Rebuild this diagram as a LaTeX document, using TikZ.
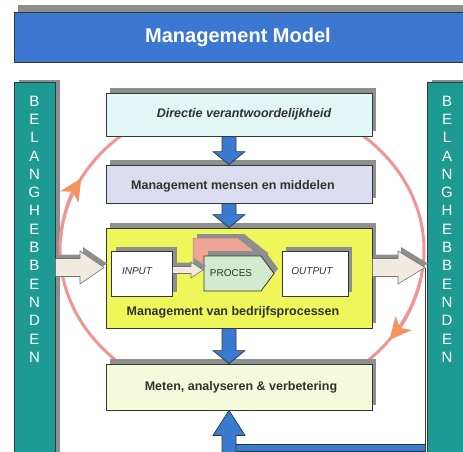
\documentclass[tikz,border=0pt]{standalone}
\usepackage{fontspec}
\setmainfont{Liberation Sans}
\usetikzlibrary{calc,arrows.meta,shadows}
\definecolor{titleblue}{HTML}{3C78D2}
\definecolor{tealbar}{HTML}{1E9A94}
\definecolor{sgray}{HTML}{8E8E8E}
\definecolor{boxcyan}{HTML}{E2F7F5}
\definecolor{boxlav}{HTML}{DCDCF0}
\definecolor{boxyel}{HTML}{EEF65A}
\definecolor{boxlyel}{HTML}{F5FADC}
\definecolor{procgreen}{HTML}{D2EBCF}
\definecolor{procpink}{HTML}{EEA595}
\definecolor{beige}{HTML}{F2E9DF}
\definecolor{arrblue}{HTML}{3A7AD0}
\definecolor{edgec}{HTML}{2E3A36}
\definecolor{ringpink}{HTML}{F39494}
\definecolor{tiporange}{HTML}{F5935E}
\definecolor{txt}{HTML}{2E332E}
\tikzset{
  shd/.style={drop shadow={shadow xshift=4pt,shadow yshift=5pt,fill=sgray,opacity=1}},
  boxstyle/.style={draw=edgec, line width=0.8pt, minimum width=266pt, inner sep=0pt,
    font=\fontsize{12.5}{14}\selectfont\bfseries, text=txt, shd},
  smallbox/.style={draw=edgec, line width=0.8pt, fill=white, inner sep=0pt, minimum height=45pt,
    font=\fontsize{10}{12}\selectfont, text=txt, shd},
  barstyle/.style={draw=edgec, line width=0.8pt, fill=tealbar, inner sep=0pt, anchor=north west,
    drop shadow={shadow xshift=5pt,shadow yshift=2pt,fill=sgray,opacity=1}},
  letter/.style={text=white, font=\fontsize{15}{15}\selectfont, inner sep=0pt},
  barrow/.style={draw=edgec, line width=0.7pt, fill=arrblue},
  bgarrow/.style={draw=edgec!70, line width=0.6pt, fill=beige},
  ring/.style={draw=ringpink, line width=3pt},
  ringtip/.style={draw=ringpink, line width=3pt, -{Stealth[length=22pt,width=21pt,inset=6pt,color=tiporange]}},
}
\newcommand\bdown[2]{%
  \draw[barrow] ($(#1)+(-7,0)$) -- ($(#2)+(-7,-13)$) -- ($(#2)+(-16,-13)$) -- (#2)
    -- ($(#2)+(16,-13)$) -- ($(#2)+(7,-13)$) -- ($(#1)+(7,0)$) -- cycle;}
\newcommand\bupar[2]{%
  \draw[barrow] ($(#1)+(-7,0)$) -- ($(#2)+(-7,25)$) -- ($(#2)+(-16,25)$) -- (#2)
    -- ($(#2)+(16,25)$) -- ($(#2)+(7,25)$) -- ($(#1)+(7,0)$) -- cycle;}
% #1 start, #2 tip, #3 shaft half, #4 head half, #5 head length
\newcommand\beigearrow[5]{%
  \fill[sgray] ($(#1)+(3,-#3-4)$) -- ($(#2)+(-#5+3,-#3-4)$) -- ($(#2)+(-#5+3,-#4-4)$) -- ($(#2)+(3,-4)$)
    -- ($(#2)+(-#5+3,#4-4)$) -- ($(#2)+(-#5+3,#3-4)$) -- ($(#1)+(3,#3-4)$) -- cycle;
  \draw[bgarrow] ($(#1)+(0,-#3)$) -- ($(#2)+(-#5,-#3)$) -- ($(#2)+(-#5,-#4)$) -- (#2)
    -- ($(#2)+(-#5,#4)$) -- ($(#2)+(-#5,#3)$) -- ($(#1)+(0,#3)$);}
\begin{document}
\begin{tikzpicture}[x=1pt,y=-1pt]
\useasboundingbox (0,0) rectangle (463,452);
\clip (0,0) rectangle (463,452);
\fill[white] (0,0) rectangle (463,452);

% title
\node[draw=edgec, line width=0.8pt, fill=titleblue, anchor=north west, minimum width=460pt,
  minimum height=50pt, inner sep=0pt,
  drop shadow={shadow xshift=4pt,shadow yshift=7pt,fill=sgray,opacity=1}] (title) at (14,12) {};
\node[text=white, font=\fontsize{20}{22}\selectfont\bfseries] (tt) at (238,37) {Management Model};

% side bars
\node[barstyle, minimum width=41pt, minimum height=390pt] (lb) at (14,82) {};
\node[barstyle, minimum width=45pt, minimum height=390pt] (rb) at (427,82) {};
\foreach \l [count=\i from 0] in {B,E,L,A,N,G,H,E,B,B,E,N,D,E,N} {
  \node[letter] (lbl\i) at (34.5,{101+18.3*\i}) {\l};
  \node[letter] (rbl\i) at (447,{101+18.3*\i}) {\l};
}

% ring
\draw[ring] (242,250) ellipse [x radius=182, y radius=153];

% feedback line
\coordinate (fbtop) at (425,268);
\coordinate (fbcorner) at (425,448);
\draw[edgec, line width=1pt] (fbtop) -- (fbcorner);
\draw[barrow] (229,444.5) rectangle (425.5,451.5);

% boxes
\node[boxstyle, fill=boxcyan, minimum height=43pt] (d1) at (239,114.5) {};
\node[font=\fontsize{12.5}{14}\selectfont\bfseries\itshape, text=txt] (d1t) at (244,114) {Directie verantwoordelijkheid};
\node[boxstyle, fill=boxlav, minimum height=38pt] (d2) at (239,184) {};
\node[font=\fontsize{12.5}{14}\selectfont\bfseries, text=txt] (d2t) at (233,186) {Management mensen en middelen};
\node[boxstyle, fill=boxyel, minimum height=100pt] (d3) at (239,278) {};
\node[font=\fontsize{12.5}{14}\selectfont\bfseries, text=txt] (d3t) at (233,312.5) {Management van bedrijfsprocessen};
\node[boxstyle, fill=boxlyel, minimum height=46pt] (d4) at (239,387) {};
\node[font=\fontsize{12.5}{14}\selectfont\bfseries, text=txt] (d4t) at (241,387) {Meten, analyseren \& verbetering};

% inner process
\node[smallbox, minimum width=61pt] (inp) at (142,274) {};
\node[font=\fontsize{10}{12}\selectfont\itshape, text=txt] (inpt) at (137,271) {INPUT};
\node[smallbox, minimum width=66pt] (outp) at (315,274) {};
\node[font=\fontsize{10}{12}\selectfont\itshape, text=txt] (outpt) at (312,271) {OUTPUT};
\fill[sgray] (197,234) -- (244,234) -- (268,253) -- (268,266) -- (197,266) -- cycle;
\draw[draw=edgec!60, line width=0.5pt, fill=procpink] (193,238) -- (238,238) -- (262,257) -- (262,270) -- (193,270) -- cycle;
\fill[sgray] (208,251) -- (265,251) -- (278,268.5) -- (265,286) -- (208,286) -- cycle;
\draw[draw=edgec, line width=0.8pt, fill=procgreen] (204,256) -- (261,256) -- (274,273.5) -- (261,291) -- (204,291) -- cycle;
\node[font=\fontsize{10}{12}\selectfont, text=txt] (proc) at (231,273.5) {PROCES};
\coordinate (ia) at (inp.east |- 0,270);
\coordinate (ib) at (203,270);
\beigearrow{ia}{ib}{3.5}{8}{12}

% big beige arrows
\coordinate (la1) at (55.5,267.5);
\coordinate (la2) at (104,267.5);
\beigearrow{la1}{la2}{9}{16.5}{24}
\coordinate (ra1) at (372.5,267.5);
\coordinate (ra2) at (425,267.5);
\beigearrow{ra1}{ra2}{9}{16.5}{27}

% blue arrows
\coordinate (ax) at (229,0);
\bdown{d1.south -| ax}{d2.north -| ax}
\bdown{d2.south -| ax}{d3.north -| ax}
\bdown{d3.south -| ax}{d4.north -| ax}
\coordinate (bb) at (229,453);
\bupar{bb}{d4.south -| ax}

% ring arrowheads
\draw[ringtip] ([shift={(242,250)}]184:182 and 153) arc[start angle=184, end angle=208, x radius=182, y radius=153];
\draw[ringtip] ([shift={(242,250)}]12:182 and 153) arc[start angle=12, end angle=36, x radius=182, y radius=153];
\end{tikzpicture}
\end{document}
